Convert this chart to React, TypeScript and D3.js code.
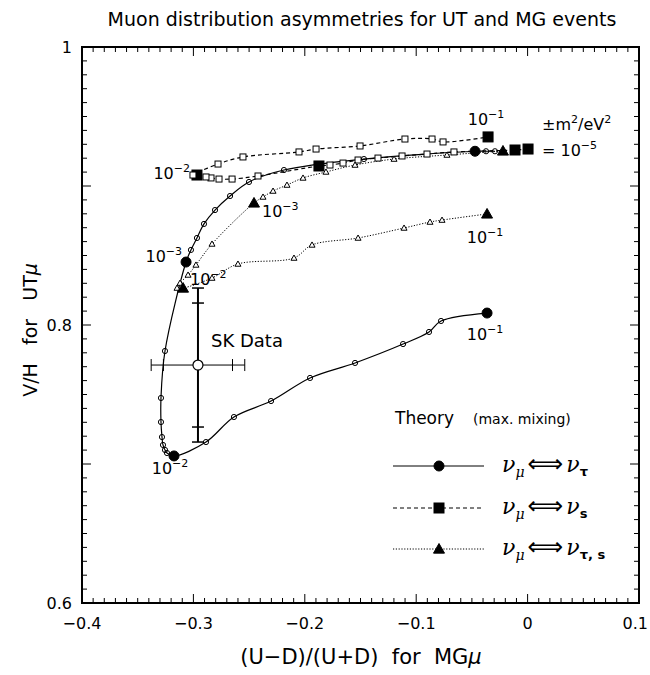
import React from 'react';
import * as d3 from 'd3';

// nu_mu <-> nu_tau (solid, circles), ordered by dm^2
const tauX = [-0.0293, -0.0373, -0.0472, -0.1469, -0.2187, -0.2501, -0.2671, -0.2806, -0.2905, -0.2968, -0.3022, -0.3066,
  -0.3255, -0.3291, -0.3291, -0.3282, -0.3273, -0.3255, -0.3237, -0.3174,
  -0.2887, -0.2636, -0.2303, -0.1953, -0.1549, -0.1118, -0.0885, -0.0777, -0.0364];
const tauY = [0.925, 0.925, 0.925, 0.9194, 0.9115, 0.9029, 0.8928, 0.8827, 0.8727, 0.8626, 0.854, 0.8453,
  0.7813, 0.7475, 0.7302, 0.7194, 0.7137, 0.7101, 0.7079, 0.7058,
  0.7158, 0.7338, 0.7453, 0.7619, 0.7727, 0.7863, 0.795, 0.8029, 0.8086];
const tauDecades = [2, 11, 19, 28];

// nu_mu <-> nu_s (dashed, squares)
const sterileX = [0.0004, -0.0113, -0.0661, -0.0903, -0.1127, -0.1343, -0.1522, -0.1657, -0.1774, -0.1873,
  -0.242, -0.2653, -0.277, -0.2842, -0.2887, -0.2968, -0.3004,
  -0.2779, -0.2555, -0.2052, -0.1899, -0.1504, -0.1101, -0.0858, -0.0759, -0.0355];
const sterileY = [0.9266, 0.9259, 0.9245, 0.923, 0.9216, 0.9201, 0.9187, 0.9165, 0.9151, 0.9144,
  0.9072, 0.905, 0.905, 0.9058, 0.9065, 0.9079, 0.9079,
  0.9158, 0.9209, 0.9245, 0.9266, 0.9288, 0.9338, 0.9338, 0.9317, 0.9353];
const sterileDecades = [0, 1, 9, 15, 25];

// nu_mu <-> nu_tau,s (dotted, triangles)
const mixedX = [-0.0221, -0.0724, -0.1199, -0.1549, -0.181, -0.2016, -0.216, -0.2285, -0.2375, -0.2456,
  -0.2833, -0.2977, -0.3048, -0.312, -0.3147, -0.3093,
  -0.2833, -0.26, -0.2097, -0.1935, -0.1522, -0.1109, -0.0876, -0.0768, -0.0364];
const mixedY = [0.9252, 0.9223, 0.9194, 0.9151, 0.9101, 0.9058, 0.9007, 0.8964, 0.8921, 0.8878,
  0.8583, 0.8432, 0.836, 0.8302, 0.8266, 0.8266,
  0.8338, 0.8439, 0.8482, 0.8576, 0.8626, 0.8698, 0.8741, 0.8755, 0.8799];
const mixedDecades = [0, 9, 15, 24];

// SK data point: value, stat error, stat+sys error
const skX = [-0.2959, 0.031, 0.042];
const skY = [0.7712, 0.0446, 0.0554];

// dm^2 labels: series, point index, exponent
const labelSeries = ['sterile', 'sterile', 'tau', 'mixed', 'mixed', 'tau', 'tau', 'mixed'];
const labelIndex = [15, 25, 11, 9, 15, 19, 28, 24];
const labelExp = ['−2', '−1', '−3', '−3', '−2', '−2', '−1', '−1'];

const xTicks = ['−0.4', '−0.3', '−0.2', '−0.1', '0', '0.1'];
const yTicks = ['0.6', '0.8', '1'];

const W = 650, H = 675;
const font = "'DejaVu Sans', Verdana, sans-serif";

const x = d3.scaleLinear().domain([-0.4, 0.1]).range([82, 639]);
const y = d3.scaleLinear().domain([0.6, 1]).range([603, 47]);

const zip = (xs: number[], ys: number[]) => xs.map((v, i) => [v, ys[i]] as [number, number]);
const series: Record<string, [number, number][]> = {
  tau: zip(tauX, tauY),
  sterile: zip(sterileX, sterileY),
  mixed: zip(mixedX, mixedY),
};

const line = d3.line<[number, number]>().x(d => x(d[0])).y(d => y(d[1])).curve(d3.curveCatmullRom.alpha(0.5));

const tri = (cx: number, cy: number, s: number) =>
  `M${cx},${cy - s}L${cx + s},${cy + s * 0.75}L${cx - s},${cy + s * 0.75}Z`;

function Marker({ kind, cx, cy, big }: { kind: string; cx: number; cy: number; big: boolean }) {
  if (kind === 'tau') return <circle cx={cx} cy={cy} r={big ? 5 : 2.6} fill={big ? '#000' : 'none'} stroke="#000" strokeWidth={1} />;
  if (kind === 'sterile') {
    const s = big ? 5 : 3;
    return <rect x={cx - s} y={cy - s} width={2 * s} height={2 * s} fill={big ? '#000' : '#fff'} stroke="#000" strokeWidth={1} />;
  }
  return <path d={tri(cx, cy, big ? 5.5 : 3)} fill={big ? '#000' : '#fff'} stroke="#000" strokeWidth={1} />;
}

const dash: Record<string, string | undefined> = { tau: undefined, sterile: '4 3', mixed: '1.2 1.6' };
const decades: Record<string, number[]> = { tau: tauDecades, sterile: sterileDecades, mixed: mixedDecades };

// label offsets in px relative to the anchor point
const labelOffset = [
  { dx: -7, dy: 4, anchor: 'end' },
  { dx: -2, dy: -12, anchor: 'middle' },
  { dx: -4, dy: 0, anchor: 'end' },
  { dx: 8, dy: 14, anchor: 'start' },
  { dx: 7, dy: -3, anchor: 'start' },
  { dx: -4, dy: 18, anchor: 'middle' },
  { dx: -2, dy: 27, anchor: 'middle' },
  { dx: -2, dy: 29, anchor: 'middle' },
];

function Pow({ x0, y0, exp, anchor }: { x0: number; y0: number; exp: string; anchor: string }) {
  return (
    <text x={x0} y={y0} textAnchor={anchor} fontSize={16} fontFamily={font}>
      10<tspan dy={-7} fontSize={11}>{exp}</tspan>
    </text>
  );
}

function LegendRow({ kind, yy, sub }: { kind: string; yy: number; sub: string }) {
  return (
    <g>
      <line x1={393} x2={484} y1={yy} y2={yy} stroke="#000" strokeWidth={1} strokeDasharray={dash[kind]} />
      <Marker kind={kind} cx={439} cy={yy} big={true} />
      <text x={502} y={yy + 6} fontSize={22} fontFamily="'DejaVu Serif', serif">
        <tspan fontStyle="italic">ν</tspan>
        <tspan dy={5} fontSize={14} fontStyle="italic">μ</tspan>
        <tspan dy={-5} dx={3} fontFamily={font} fontSize={25}>⟺</tspan>
        <tspan dx={3} fontStyle="italic">ν</tspan>
        <tspan dy={4} fontSize={13} fontWeight="bold" fontFamily={font}>{sub}</tspan>
      </text>
    </g>
  );
}

export default function App() {
  const sx = x(skX[0]), sy = y(skY[0]);
  const pre = { whiteSpace: 'pre' as const };
  return (
    <svg width={W} height={H} style={{ position: 'absolute', left: 0, top: 0, background: '#fff' }}>
      <text x={362} y={26} textAnchor="middle" fontSize={19} fontFamily={font}>
        Muon distribution asymmetries for UT and MG events
      </text>

      {/* frame and ticks */}
      <rect x={82} y={47} width={557} height={556} fill="none" stroke="#000" strokeWidth={2} />
      {d3.range(0, 51).map(i => {
        const px = x(-0.4 + i * 0.01), len = i % 10 === 0 ? 9 : 5;
        return (
          <g key={'xt' + i}>
            <line x1={px} x2={px} y1={603} y2={603 - len} stroke="#000" />
            <line x1={px} x2={px} y1={47} y2={47 + len} stroke="#000" />
          </g>
        );
      })}
      {d3.range(0, 41).map(i => {
        const py = y(0.6 + i * 0.01), len = i % 10 === 0 ? 9 : 5;
        return (
          <g key={'yt' + i}>
            <line x1={82} x2={82 + len} y1={py} y2={py} stroke="#000" />
            <line x1={639} x2={639 - len} y1={py} y2={py} stroke="#000" />
          </g>
        );
      })}
      {xTicks.map((t, i) => {
        const last = i === xTicks.length - 1;
        return (
          <text key={t} x={last ? 648 : x(-0.4 + i * 0.1)} y={629} textAnchor={last ? 'end' : 'middle'} fontSize={16} fontFamily={font}>{t}</text>
        );
      })}
      {yTicks.map(t => (
        <text key={t} x={72} y={y(+t) + 6} textAnchor="end" fontSize={16} fontFamily={font}>{t}</text>
      ))}
      <text x={361} y={664} textAnchor="middle" fontSize={21} fontFamily={font} style={pre}>
        {'(U−D)/(U+D)  for  MG'}<tspan fontStyle="italic">μ</tspan>
      </text>
      <text transform="translate(37,330) rotate(-90)" textAnchor="middle" fontSize={19} fontFamily={font} style={pre}>
        {'V/H   for   UT'}<tspan fontStyle="italic">μ</tspan>
      </text>

      {/* curves */}
      {Object.keys(series).map(k => (
        <path key={k} d={line(series[k]) || ''} fill="none" stroke="#000" strokeWidth={k === 'mixed' ? 1 : 1.2} strokeDasharray={dash[k]} />
      ))}
      {Object.keys(series).map(k =>
        series[k].map((p, i) => (
          <Marker key={k + i} kind={k} cx={x(p[0])} cy={y(p[1])} big={decades[k].includes(i)} />
        ))
      )}

      {/* SK data */}
      <g stroke="#000">
        <line x1={x(skX[0] - skX[2])} x2={x(skX[0] + skX[2])} y1={sy} y2={sy} strokeWidth={1} />
        <line x1={sx} x2={sx} y1={y(skY[0] - skY[2])} y2={y(skY[0] + skY[2])} strokeWidth={2} />
        {[-skX[2], -skX[1], skX[1], skX[2]].map((e, i) => (
          <line key={'hx' + i} x1={x(skX[0] + e)} x2={x(skX[0] + e)} y1={sy - 6} y2={sy + 6} strokeWidth={1} />
        ))}
        {[-skY[2], -skY[1], skY[1], skY[2]].map((e, i) => (
          <line key={'vy' + i} x1={sx - 6} x2={sx + 6} y1={y(skY[0] + e)} y2={y(skY[0] + e)} strokeWidth={1.5} />
        ))}
        <circle cx={sx} cy={sy} r={5} fill="#fff" strokeWidth={1.2} />
      </g>
      <text x={211} y={347} fontSize={18} fontFamily={font}>SK Data</text>

      {/* dm^2 labels */}
      {labelSeries.map((s, i) => {
        const p = series[s][labelIndex[i]], o = labelOffset[i];
        return <Pow key={'l' + i} x0={x(p[0]) + o.dx} y0={y(p[1]) + o.dy} exp={labelExp[i]} anchor={o.anchor} />;
      })}
      <text x={542} y={130} fontSize={16} fontFamily={font}>
        ±m<tspan dy={-7} fontSize={11}>2</tspan><tspan dy={7}>/eV</tspan><tspan dy={-7} fontSize={11}>2</tspan>
      </text>
      <text x={542} y={156} fontSize={16} fontFamily={font}>
        = 10<tspan dy={-7} fontSize={11}>−5</tspan>
      </text>

      {/* legend */}
      <text x={395} y={424} fontSize={17} fontFamily={font}>Theory</text>
      <text x={473} y={424} fontSize={14} fontFamily={font}>(max. mixing)</text>
      <LegendRow kind="tau" yy={466} sub="τ" />
      <LegendRow kind="sterile" yy={508} sub="s" />
      <LegendRow kind="mixed" yy={549} sub="τ, s" />
    </svg>
  );
}
